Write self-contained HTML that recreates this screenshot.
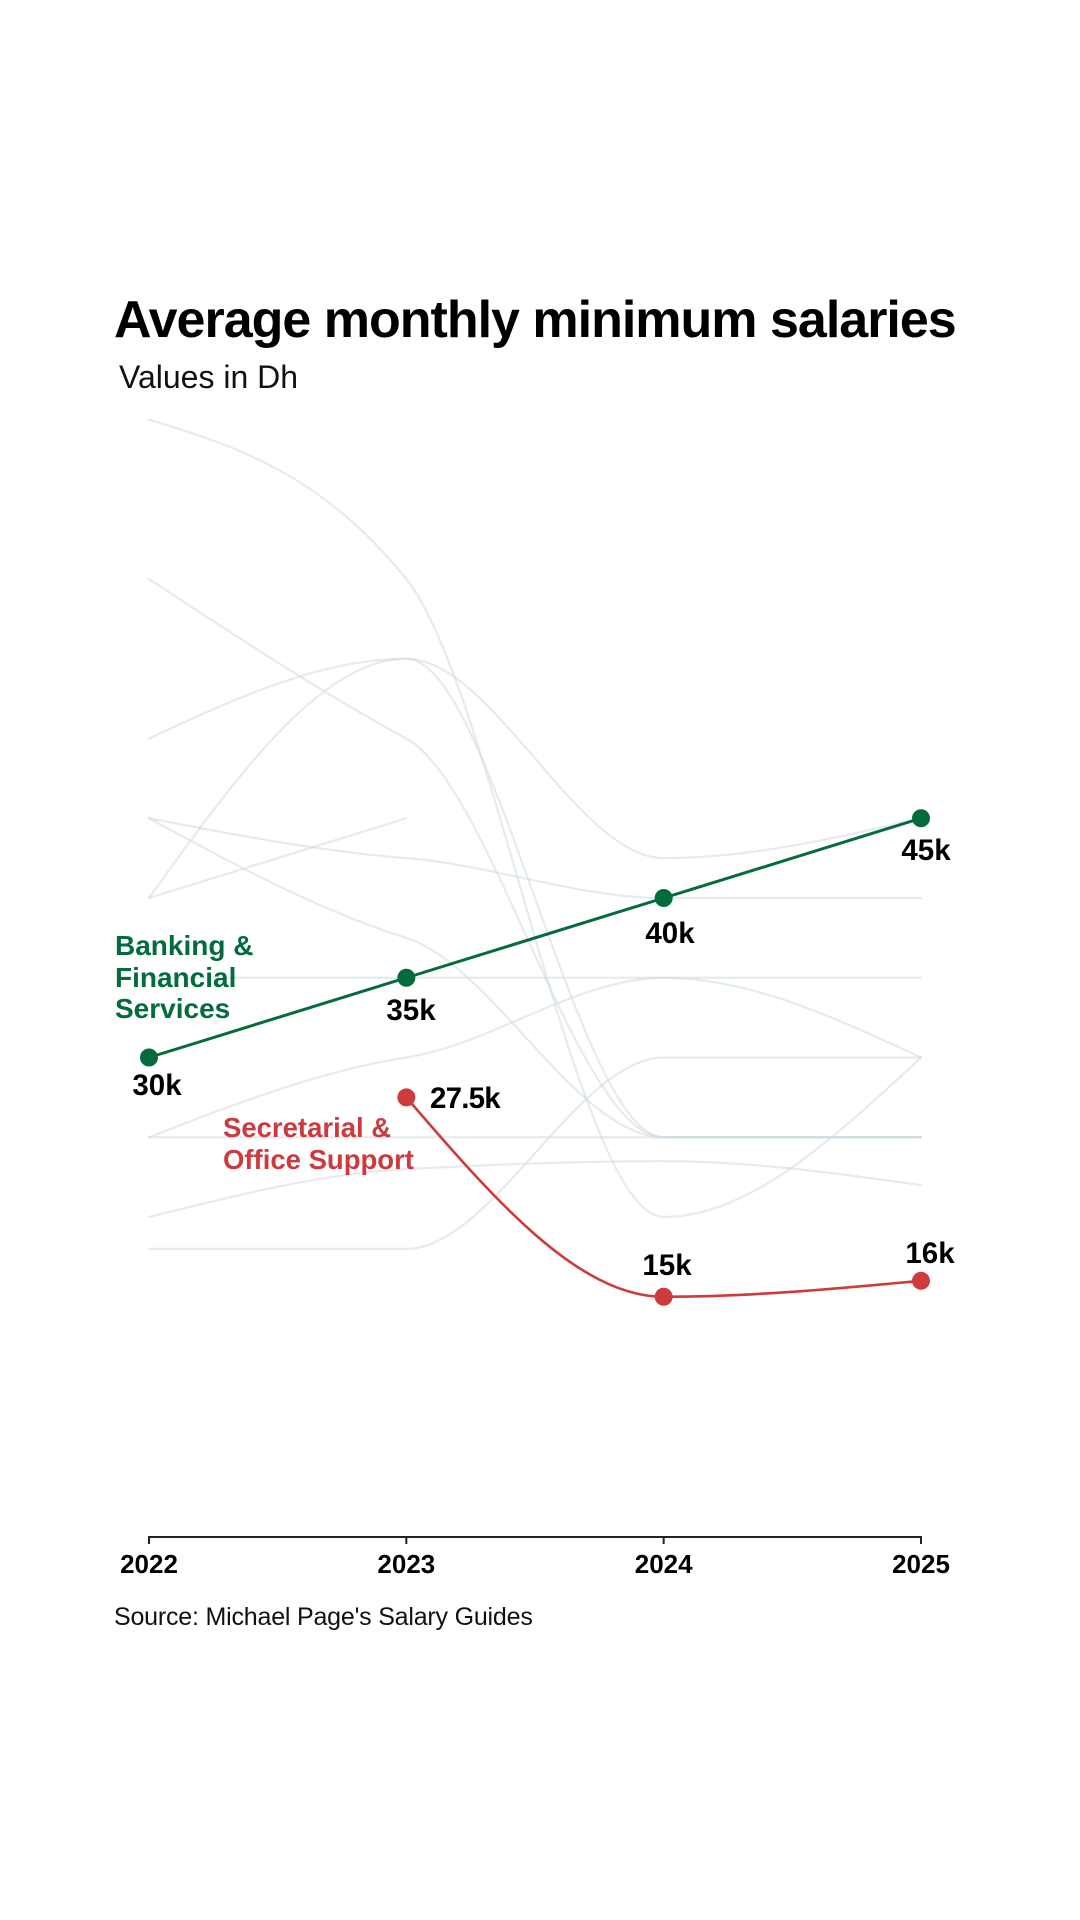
<!DOCTYPE html>
<html>
<head>
<meta charset="utf-8">
<style>
  html, body { margin: 0; padding: 0; background: #ffffff; }
  body { width: 1080px; height: 1920px; overflow: hidden; }
  svg { display: block; }
  text { font-family: "Liberation Sans", "DejaVu Sans", sans-serif; }
</style>
</head>
<body>
<svg width="1080" height="1920" viewBox="0 0 1080 1920" xmlns="http://www.w3.org/2000/svg">
  <rect x="0" y="0" width="1080" height="1920" fill="#ffffff"/>

  <!-- Title -->
  <text x="114" y="337" font-size="52" font-weight="700" fill="#000" letter-spacing="-1">Average monthly minimum salaries</text>
  <text x="119" y="388" font-size="32" fill="#111">Values in Dh</text>

  <!-- Grey background series -->
  <g fill="none" stroke="#cfdbe2" stroke-width="2.2" stroke-opacity="0.55" stroke-linecap="round">
    <path d="M149,419.5 C234.78,446.1 320.55,472.6 406.33,579 C492.11,685.4 577.89,1217 663.67,1217 C749.45,1217 835.22,1137.25 921,1057.5"/>
    <path d="M149,579 C234.78,635.5 320.55,691.9 406.33,738.5 C492.11,785.1 577.89,1137.25 663.67,1137.25 L921,1137.25"/>
    <path d="M149,738.5 C234.78,698.6 320.55,658.75 406.33,658.75 C492.11,658.75 577.89,1137.25 663.67,1137.25 L921,1137.25"/>
    <path d="M149,898 C234.78,778.4 320.55,658.75 406.33,658.75 C492.11,658.75 577.89,858.1 663.67,858.1 C749.45,858.1 835.22,838.2 921,818.25"/>
    <path d="M149,818.25 C234.78,834.8 320.55,851.4 406.33,858.1 C492.11,864.8 577.89,898 663.67,898 L921,898"/>
    <path d="M149,898 L406.33,818.25"/>
    <path d="M149,818.25 C234.78,864.8 320.55,911.2 406.33,937.9 C492.11,964.5 577.89,1137.25 663.67,1137.25 L921,1137.25"/>
    <path d="M149,977.75 L921,977.75"/>
    <path d="M149,1137.25 C234.78,1104.1 320.55,1070.7 406.33,1057.5 C492.11,1044.3 577.89,977.75 663.67,977.75 C749.45,977.75 835.22,1017.6 921,1057.5"/>
    <path d="M149,1217 C234.78,1195.5 320.55,1173.8 406.33,1169.15 C492.11,1164.5 577.89,1161.2 663.67,1161.2 C749.45,1161.2 835.22,1173.1 921,1185.1"/>
    <path d="M149,1248.9 L406.33,1248.9 C492.11,1248.9 577.89,1057.5 663.67,1057.5 L921,1057.5"/>
    <path d="M149,1137.25 L921,1137.25"/>
  </g>

  <!-- Banking & Financial Services (green) -->
  <path d="M149,1057.5 L406.33,977.75 L663.67,898 L921,818.25" fill="none" stroke="#046c3c" stroke-width="3"/>
  <g fill="#046c3c">
    <circle cx="149" cy="1057.5" r="9"/>
    <circle cx="406.33" cy="977.75" r="9"/>
    <circle cx="663.67" cy="898" r="9"/>
    <circle cx="921" cy="818.25" r="9"/>
  </g>

  <!-- Secretarial & Office Support (red) -->
  <path d="M406.33,1097.4 C492.11,1197.06 577.89,1296.75 663.67,1296.75 C749.45,1296.75 835.22,1288.8 921,1280.8" fill="none" stroke="#cf3a3d" stroke-width="2.6"/>
  <g fill="#cf3a3d">
    <circle cx="406.33" cy="1097.4" r="9"/>
    <circle cx="663.67" cy="1296.75" r="9"/>
    <circle cx="921" cy="1280.8" r="9"/>
  </g>

  <!-- Series labels -->
  <g font-size="28" font-weight="700" fill="#046c3c">
    <text x="115" y="955">Banking &amp;</text>
    <text x="115" y="987">Financial</text>
    <text x="115" y="1018">Services</text>
  </g>
  <g font-size="27.5" font-weight="700" fill="#cc3a3e">
    <text x="223" y="1137">Secretarial &amp;</text>
    <text x="223" y="1169">Office Support</text>
  </g>

  <!-- Value labels -->
  <g font-size="29.5" font-weight="700" fill="#000" text-anchor="middle">
    <text x="157" y="1095">30k</text>
    <text x="411" y="1020">35k</text>
    <text x="670" y="943">40k</text>
    <text x="926" y="860">45k</text>
    <text x="667" y="1275">15k</text>
    <text x="930" y="1263">16k</text>
  </g>
  <text x="430" y="1108" font-size="29.5" font-weight="700" fill="#000" letter-spacing="-0.8">27.5k</text>

  <!-- X axis -->
  <g stroke="#222" stroke-width="2" fill="none">
    <line x1="148" y1="1537" x2="922" y2="1537"/>
    <line x1="149" y1="1537" x2="149" y2="1544"/>
    <line x1="406.33" y1="1537" x2="406.33" y2="1544"/>
    <line x1="663.67" y1="1537" x2="663.67" y2="1544"/>
    <line x1="921" y1="1537" x2="921" y2="1544"/>
  </g>
  <g font-size="26" font-weight="700" fill="#000" text-anchor="middle">
    <text x="149" y="1573">2022</text>
    <text x="406.33" y="1573">2023</text>
    <text x="663.67" y="1573">2024</text>
    <text x="921" y="1573">2025</text>
  </g>

  <!-- Source -->
  <text x="114" y="1625" font-size="25" fill="#111" letter-spacing="-0.2">Source: Michael Page's Salary Guides</text>
</svg>
</body>
</html>
